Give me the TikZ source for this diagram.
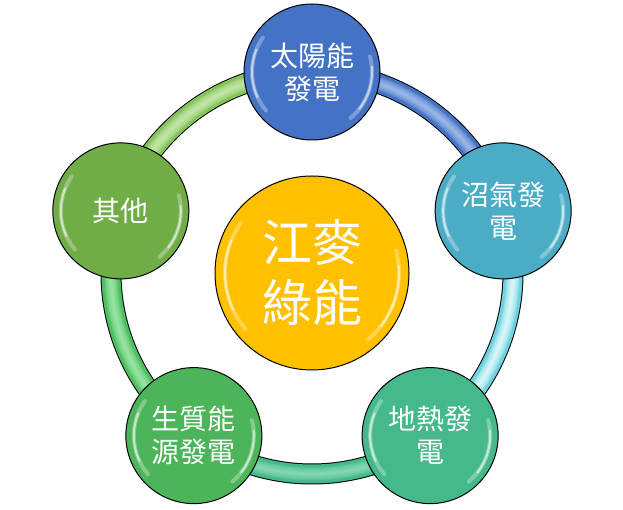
\documentclass[tikz,border=0pt]{standalone}
\usepackage{fontspec}
\newfontfamily\cjk{Noto Sans CJK TC}
\definecolor{cTop}{HTML}{4472C4}
\definecolor{cRight}{HTML}{4BACC6}
\definecolor{cBR}{HTML}{45B98B}
\definecolor{cBL}{HTML}{4CB55A}
\definecolor{cLeft}{HTML}{70AD47}
\definecolor{cCenter}{HTML}{FFC000}
\definecolor{tA}{HTML}{4472C4}\definecolor{hA}{HTML}{A9C2EE}
\definecolor{tB}{HTML}{6FD0E0}\definecolor{hB}{HTML}{EAFFFF}
\definecolor{tC}{HTML}{44B98A}\definecolor{hC}{HTML}{90DDB9}
\definecolor{tD}{HTML}{4CBF60}\definecolor{hD}{HTML}{A6EBB0}
\definecolor{tE}{HTML}{86C35A}\definecolor{hE}{HTML}{CDEBB5}
\tikzset{
  bubble/.style={circle, draw=black, line width=1pt, minimum size=136pt, inner sep=0pt,
    text=white, align=center, font=\cjk\fontsize{28}{33}\selectfont},
  bigbubble/.style={bubble, minimum size=194pt, font=\cjk\fontsize{50}{60}\selectfont},
  tubeout/.style={line width=21pt, draw=black, line cap=butt},
  tubein/.style={line width=19pt, line cap=butt},
  tubehl/.style={line cap=butt, opacity=.3},
}
\newcommand\gloss[2]{% node name, radius
  \draw[white, opacity=.3, line width=4pt, line cap=round] ([shift={(145:#2)}]#1.center) arc[start angle=145, end angle=220, radius=#2];
  \draw[white, opacity=.55, line width=2pt, line cap=round] ([shift={(158:#2)}]#1.center) arc[start angle=158, end angle=205, radius=#2];
  \draw[white, opacity=.3, line width=4pt, line cap=round] ([shift={(15:#2)}]#1.center) arc[start angle=15, end angle=-50, radius=#2];
  \draw[white, opacity=.55, line width=2pt, line cap=round] ([shift={(5:#2)}]#1.center) arc[start angle=5, end angle=-38, radius=#2];
}
\begin{document}
\begin{tikzpicture}[x=1pt,y=1pt]
\useasboundingbox (0,0) rectangle (623,509);
\coordinate (O) at (312,236);
% node positions
\coordinate (pTop) at ([shift={(90:201)}]O);
\coordinate (pRight) at ([shift={(18:201)}]O);
\coordinate (pBR) at ([shift={(-54:201)}]O);
\coordinate (pBL) at ([shift={(-126:201)}]O);
\coordinate (pLeft) at ([shift={(162:201)}]O);
% tubes
\foreach \s/\a/\b/\t/\h in {pTop/90/18/tA/hA, pRight/18/-54/tB/hB, pBR/-54/-126/tC/hC, pBL/-126/-198/tD/hD, pLeft/162/90/tE/hE}{
  \draw[tubeout] (\s) arc[start angle=\a, end angle=\b, radius=201];
  \draw[tubein, draw=\t] (\s) arc[start angle=\a, end angle=\b, radius=201];
  \foreach \w in {13,10,7,4,2}{
    \draw[tubehl, draw=\h, line width=\w pt] (\s) arc[start angle=\a, end angle=\b, radius=201];
  }
}
% nodes
\node[bubble, fill=cTop] (top) at (pTop) {太陽能\\發電};
\node[bubble, fill=cRight] (right) at (pRight) {沼氣發\\電};
\node[bubble, fill=cBR] (br) at (pBR) {地熱發\\電};
\node[bubble, fill=cBL] (bl) at (pBL) {生質能\\源發電};
\node[bubble, fill=cLeft] (left) at (pLeft) {其他};
\node[bigbubble, fill=cCenter] (center) at (312,236) {江麥\\綠能};
\gloss{top}{60}
\gloss{right}{60}
\gloss{br}{60}
\gloss{bl}{60}
\gloss{left}{60}
\gloss{center}{87}
\end{tikzpicture}
\end{document}
